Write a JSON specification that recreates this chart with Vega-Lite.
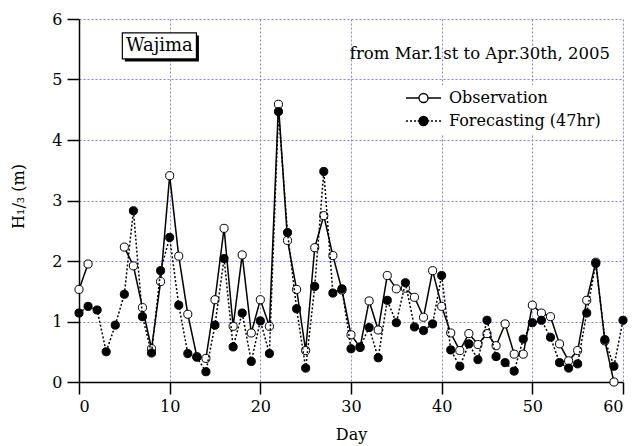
{
  "$schema": "https://vega.github.io/schema/vega-lite/v6.json",
  "width": 544,
  "height": 363,
  "autosize": {"type": "none"},
  "padding": {"left": 79, "top": 19, "right": 12, "bottom": 64},
  "background": "white",
  "config": {
    "view": {"stroke": null},
    "font": "DejaVu Serif",
    "axis": {
      "domainColor": "black", "domainWidth": 1.5,
      "tickColor": "black", "tickWidth": 1.5, "tickSize": 12,
      "labelFont": "DejaVu Serif", "labelFontSize": 16, "labelColor": "black",
      "titleFont": "DejaVu Serif", "titleFontSize": 16, "titleFontWeight": "normal", "titleColor": "black",
      "grid": true, "gridColor": "#8080ff", "gridDash": [2, 2], "gridWidth": 1
    },
    "legend": {"labelFont": "DejaVu Serif", "labelFontSize": 16, "labelColor": "black", "symbolStrokeWidth": 1.3, "symbolSize": 81}
  },
  "datasets": {
    "waves": [
      {"day": 0, "series": "Observation", "h": 1.53},
      {"day": 1, "series": "Observation", "h": 1.95},
      {"day": 2, "series": "Observation", "h": null},
      {"day": 3, "series": "Observation", "h": null},
      {"day": 4, "series": "Observation", "h": null},
      {"day": 5, "series": "Observation", "h": 2.23},
      {"day": 6, "series": "Observation", "h": 1.92},
      {"day": 7, "series": "Observation", "h": 1.23},
      {"day": 8, "series": "Observation", "h": 0.55},
      {"day": 9, "series": "Observation", "h": 1.66},
      {"day": 10, "series": "Observation", "h": 3.41},
      {"day": 11, "series": "Observation", "h": 2.08},
      {"day": 12, "series": "Observation", "h": 1.12},
      {"day": 13, "series": "Observation", "h": 0.42},
      {"day": 14, "series": "Observation", "h": 0.39},
      {"day": 15, "series": "Observation", "h": 1.36},
      {"day": 16, "series": "Observation", "h": 2.54},
      {"day": 17, "series": "Observation", "h": 0.92},
      {"day": 18, "series": "Observation", "h": 2.1},
      {"day": 19, "series": "Observation", "h": 0.81},
      {"day": 20, "series": "Observation", "h": 1.36},
      {"day": 21, "series": "Observation", "h": 0.92},
      {"day": 22, "series": "Observation", "h": 4.59},
      {"day": 23, "series": "Observation", "h": 2.34},
      {"day": 24, "series": "Observation", "h": 1.53},
      {"day": 25, "series": "Observation", "h": 0.52},
      {"day": 26, "series": "Observation", "h": 2.22},
      {"day": 27, "series": "Observation", "h": 2.75},
      {"day": 28, "series": "Observation", "h": 2.09},
      {"day": 29, "series": "Observation", "h": 1.52},
      {"day": 30, "series": "Observation", "h": 0.78},
      {"day": 31, "series": "Observation", "h": 0.57},
      {"day": 32, "series": "Observation", "h": 1.34},
      {"day": 33, "series": "Observation", "h": 0.86},
      {"day": 34, "series": "Observation", "h": 1.76},
      {"day": 35, "series": "Observation", "h": 1.54},
      {"day": 36, "series": "Observation", "h": 1.55},
      {"day": 37, "series": "Observation", "h": 1.4},
      {"day": 38, "series": "Observation", "h": 1.07},
      {"day": 39, "series": "Observation", "h": 1.84},
      {"day": 40, "series": "Observation", "h": 1.25},
      {"day": 41, "series": "Observation", "h": 0.81},
      {"day": 42, "series": "Observation", "h": 0.52},
      {"day": 43, "series": "Observation", "h": 0.8},
      {"day": 44, "series": "Observation", "h": 0.62},
      {"day": 45, "series": "Observation", "h": 0.8},
      {"day": 46, "series": "Observation", "h": 0.6},
      {"day": 47, "series": "Observation", "h": 0.96},
      {"day": 48, "series": "Observation", "h": 0.46},
      {"day": 49, "series": "Observation", "h": 0.46},
      {"day": 50, "series": "Observation", "h": 1.27},
      {"day": 51, "series": "Observation", "h": 1.14},
      {"day": 52, "series": "Observation", "h": 1.08},
      {"day": 53, "series": "Observation", "h": 0.63},
      {"day": 54, "series": "Observation", "h": 0.35},
      {"day": 55, "series": "Observation", "h": 0.52},
      {"day": 56, "series": "Observation", "h": 1.35},
      {"day": 57, "series": "Observation", "h": 1.98},
      {"day": 58, "series": "Observation", "h": 0.68},
      {"day": 59, "series": "Observation", "h": 0.0},
      {"day": 0, "series": "Forecasting (47hr)", "h": 1.14},
      {"day": 1, "series": "Forecasting (47hr)", "h": 1.25},
      {"day": 2, "series": "Forecasting (47hr)", "h": 1.19},
      {"day": 3, "series": "Forecasting (47hr)", "h": 0.5},
      {"day": 4, "series": "Forecasting (47hr)", "h": 0.94},
      {"day": 5, "series": "Forecasting (47hr)", "h": 1.45},
      {"day": 6, "series": "Forecasting (47hr)", "h": 2.83},
      {"day": 7, "series": "Forecasting (47hr)", "h": 1.08},
      {"day": 8, "series": "Forecasting (47hr)", "h": 0.48},
      {"day": 9, "series": "Forecasting (47hr)", "h": 1.84},
      {"day": 10, "series": "Forecasting (47hr)", "h": 2.39},
      {"day": 11, "series": "Forecasting (47hr)", "h": 1.27},
      {"day": 12, "series": "Forecasting (47hr)", "h": 0.47},
      {"day": 13, "series": "Forecasting (47hr)", "h": 0.41},
      {"day": 14, "series": "Forecasting (47hr)", "h": 0.17},
      {"day": 15, "series": "Forecasting (47hr)", "h": 0.94},
      {"day": 16, "series": "Forecasting (47hr)", "h": 2.04},
      {"day": 17, "series": "Forecasting (47hr)", "h": 0.58},
      {"day": 18, "series": "Forecasting (47hr)", "h": 1.14},
      {"day": 19, "series": "Forecasting (47hr)", "h": 0.34},
      {"day": 20, "series": "Forecasting (47hr)", "h": 1.01},
      {"day": 21, "series": "Forecasting (47hr)", "h": 0.47},
      {"day": 22, "series": "Forecasting (47hr)", "h": 4.47},
      {"day": 23, "series": "Forecasting (47hr)", "h": 2.47},
      {"day": 24, "series": "Forecasting (47hr)", "h": 1.21},
      {"day": 25, "series": "Forecasting (47hr)", "h": 0.23},
      {"day": 26, "series": "Forecasting (47hr)", "h": 1.58},
      {"day": 27, "series": "Forecasting (47hr)", "h": 3.48},
      {"day": 28, "series": "Forecasting (47hr)", "h": 1.47},
      {"day": 29, "series": "Forecasting (47hr)", "h": 1.54},
      {"day": 30, "series": "Forecasting (47hr)", "h": 0.55},
      {"day": 31, "series": "Forecasting (47hr)", "h": 0.58},
      {"day": 32, "series": "Forecasting (47hr)", "h": 0.9},
      {"day": 33, "series": "Forecasting (47hr)", "h": 0.4},
      {"day": 34, "series": "Forecasting (47hr)", "h": 1.35},
      {"day": 35, "series": "Forecasting (47hr)", "h": 0.98},
      {"day": 36, "series": "Forecasting (47hr)", "h": 1.64},
      {"day": 37, "series": "Forecasting (47hr)", "h": 0.91},
      {"day": 38, "series": "Forecasting (47hr)", "h": 0.85},
      {"day": 39, "series": "Forecasting (47hr)", "h": 0.96},
      {"day": 40, "series": "Forecasting (47hr)", "h": 1.76},
      {"day": 41, "series": "Forecasting (47hr)", "h": 0.53},
      {"day": 42, "series": "Forecasting (47hr)", "h": 0.26},
      {"day": 43, "series": "Forecasting (47hr)", "h": 0.63},
      {"day": 44, "series": "Forecasting (47hr)", "h": 0.37},
      {"day": 45, "series": "Forecasting (47hr)", "h": 1.02},
      {"day": 46, "series": "Forecasting (47hr)", "h": 0.42},
      {"day": 47, "series": "Forecasting (47hr)", "h": 0.32},
      {"day": 48, "series": "Forecasting (47hr)", "h": 0.18},
      {"day": 49, "series": "Forecasting (47hr)", "h": 0.71},
      {"day": 50, "series": "Forecasting (47hr)", "h": 0.98},
      {"day": 51, "series": "Forecasting (47hr)", "h": 1.02},
      {"day": 52, "series": "Forecasting (47hr)", "h": 0.74},
      {"day": 53, "series": "Forecasting (47hr)", "h": 0.32},
      {"day": 54, "series": "Forecasting (47hr)", "h": 0.23},
      {"day": 55, "series": "Forecasting (47hr)", "h": 0.3},
      {"day": 56, "series": "Forecasting (47hr)", "h": 1.14},
      {"day": 57, "series": "Forecasting (47hr)", "h": 1.96},
      {"day": 58, "series": "Forecasting (47hr)", "h": 0.7},
      {"day": 59, "series": "Forecasting (47hr)", "h": 0.26},
      {"day": 60, "series": "Forecasting (47hr)", "h": 1.02}
    ]
  },
  "layer": [
    {
      "data": {"name": "waves"},
      "transform": [{"filter": "datum.series === 'Observation'"}],
      "mark": {"type": "line", "stroke": "black", "strokeWidth": 1.5, "invalid": "break-paths-show-domains"},
      "encoding": {
        "x": {"field": "day", "type": "quantitative", "scale": {"domain": [0, 60], "nice": false},
              "axis": {"values": [0, 10, 20, 30, 40, 50, 60], "format": "d", "title": "Day", "titlePadding": 12, "labelPadding": 4}},
        "y": {"field": "h", "type": "quantitative", "scale": {"domain": [0, 6], "nice": false},
              "axis": {"values": [0, 1, 2, 3, 4, 5, 6], "format": "d", "title": "H₁/₃ (m)", "labelPadding": 5, "titleX": -61, "titleY": 177, "titleAngle": 270, "titleBaseline": "middle", "titleAlign": "center"}}
      }
    },
    {
      "data": {"name": "waves"},
      "transform": [{"filter": "datum.series === 'Observation'"}],
      "mark": {"type": "point", "shape": "circle", "filled": true, "fill": "white", "size": 66, "strokeWidth": 1, "opacity": 1},
      "encoding": {
        "x": {"field": "day", "type": "quantitative"},
        "y": {"field": "h", "type": "quantitative"},
        "stroke": {"field": "series", "type": "nominal", "scale": {"range": ["black"]},
                  "legend": {"title": null, "orient": "none", "legendX": 331.5, "legendY": 66,
                             "padding": 5, "fillColor": "white", "labelOffset": 17.5,
                             "symbolFillColor": "white",
                             "symbolType": "M-3.9,0H-1M1,0H3.9M1,0A1,1,0,1,1,-1,0A1,1,0,1,1,1,0"}}
      }
    },
    {
      "data": {"name": "waves"},
      "transform": [{"filter": "datum.series !== 'Observation'"}],
      "mark": {"type": "line", "stroke": "black", "strokeWidth": 1.5, "strokeDash": [2, 2]},
      "encoding": {
        "x": {"field": "day", "type": "quantitative"},
        "y": {"field": "h", "type": "quantitative"}
      }
    },
    {
      "data": {"name": "waves"},
      "transform": [{"filter": "datum.series !== 'Observation'"}],
      "mark": {"type": "point", "shape": "circle", "filled": true, "size": 66, "stroke": "black", "strokeWidth": 1, "opacity": 1},
      "encoding": {
        "x": {"field": "day", "type": "quantitative"},
        "y": {"field": "h", "type": "quantitative"},
        "fill": {"field": "series", "type": "nominal", "scale": {"range": ["black"]},
                 "legend": {"title": null, "orient": "none", "legendX": 331.5, "legendY": 89,
                            "padding": 5, "fillColor": "white", "labelOffset": 17.5,
                            "symbolStrokeColor": "black",
                            "symbolType": "M-3.9,0H-3.45M-3.0,0H-2.55M-2.1,0H-1.65M-1.3,0H-1M1,0H1.3M1.65,0H2.1M2.55,0H3.0M3.45,0H3.9M1,0A1,1,0,1,1,-1,0A1,1,0,1,1,1,0"}}
      }
    },
    {
      "data": {"values": [{}]},
      "mark": {"type": "rect", "fill": "black", "xOffset": 2.5, "yOffset": 2.5, "x2Offset": 2.5, "y2Offset": 2.5},
      "encoding": {
        "x": {"datum": 4.78}, "x2": {"datum": 12.95},
        "y": {"datum": 5.77}, "y2": {"datum": 5.34}
      }
    },
    {
      "data": {"values": [{}]},
      "mark": {"type": "rect", "fill": "white", "stroke": "black", "strokeWidth": 1.2},
      "encoding": {
        "x": {"datum": 4.78}, "x2": {"datum": 12.95},
        "y": {"datum": 5.77}, "y2": {"datum": 5.34}
      }
    },
    {
      "data": {"values": [{}]},
      "mark": {"type": "text", "text": "Wajima", "font": "DejaVu Serif", "fontSize": 18, "align": "center", "baseline": "middle", "fill": "black"},
      "encoding": {"x": {"datum": 8.87}, "y": {"datum": 5.555}}
    },
    {
      "data": {"values": [{}]},
      "mark": {"type": "text", "text": "from Mar.1st to Apr.30th, 2005", "font": "DejaVu Serif", "fontSize": 16.5, "align": "left", "baseline": "alphabetic", "fill": "black"},
      "encoding": {"x": {"datum": 29.87}, "y": {"datum": 5.347}}
    }
  ]
}
